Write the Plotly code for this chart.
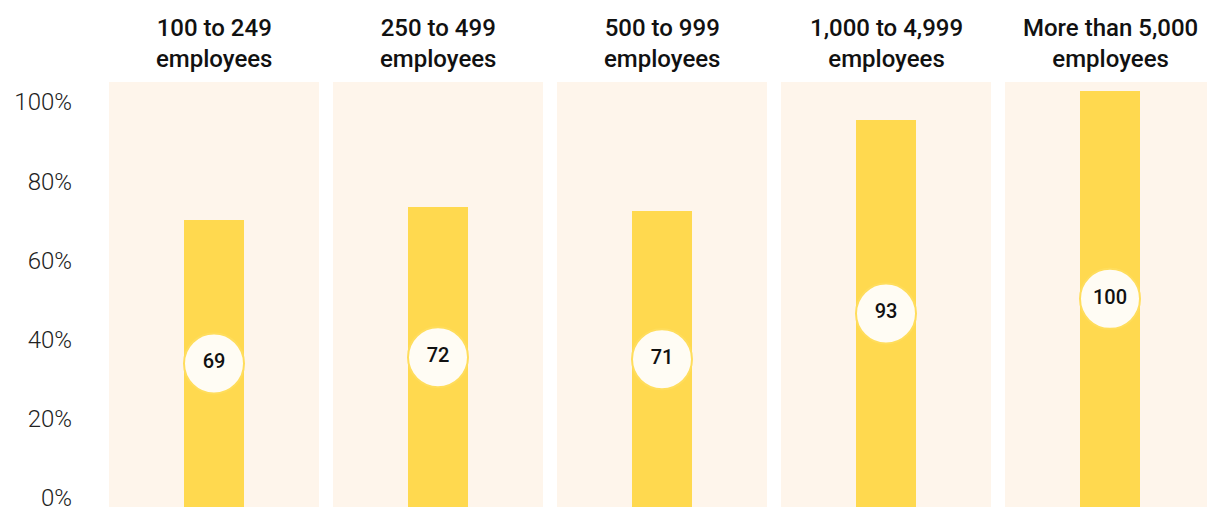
import plotly.graph_objects as go
from plotly.subplots import make_subplots

# company size groups and share (%)
groups = ["100 to 249<br>employees", "250 to 499<br>employees", "500 to 999<br>employees",
          "1,000 to 4,999<br>employees", "More than 5,000<br>employees"]
values = [69, 72, 71, 93, 100]
tick_vals = [0, 20, 40, 60, 80, 100]
tick_text = ["0%", "20%", "40%", "60%", "80%", "100%"]

BAR = "#FFD94F"
PANEL = "#FEF5EB"
CIRCLE = "#FFFCF4"

n = len(groups)
fig = make_subplots(rows=1, cols=n, horizontal_spacing=14 / 1106, shared_yaxes=False)

for i, (g, v) in enumerate(zip(groups, values)):
    col = i + 1
    fig.add_trace(go.Bar(x=[0], y=[v], width=0.29, marker=dict(color=BAR, line_width=0),
                         hoverinfo="skip", showlegend=False), row=1, col=col)
    # value bubble at half bar height
    fig.add_trace(go.Scatter(x=[0], y=[v / 2], mode="markers+text", text=[str(v)],
                             textposition="middle center",
                             textfont=dict(family="Roboto", size=20, color="#111111", weight=500),
                             marker=dict(size=60, color=CIRCLE, line=dict(color="#FFDD5C", width=2)),
                             cliponaxis=False, hoverinfo="skip", showlegend=False), row=1, col=col)
    fig.update_xaxes(range=[-0.5, 0.5], visible=False, fixedrange=True, automargin=False,
                     row=1, col=col)
    fig.update_yaxes(range=[0, 102.1], visible=False, automargin=False, row=1, col=col)
    dom = fig.layout["xaxis" if col == 1 else f"xaxis{col}"].domain
    fig.add_annotation(x=(dom[0] + dom[1]) / 2, y=1, xref="paper", yref="paper",
                       text=g, showarrow=False, xanchor="center", yanchor="bottom", yshift=7,
                       font=dict(family="Roboto", size=24, color="#111111", weight=500))

# separate percentage scale shown on the left
fig.add_trace(go.Scatter(x=[0, 0], y=[0, 100], mode="markers", marker=dict(opacity=0),
                         hoverinfo="skip", showlegend=False, xaxis="x", yaxis="y6"))
fig.update_layout(
    yaxis6=dict(overlaying="y", anchor="x", side="left", range=[-2.4, 105.06],
                tickvals=tick_vals, ticktext=tick_text, showgrid=False, zeroline=False,
                showline=False, ticks="", ticklabelstandoff=36, automargin=False,
                ticklabeloverflow="allow",
                tickfont=dict(family="Roboto", size=24, color="#222222", weight=300)),
)

# page body adds an 8px offset, so the figure is a bit smaller than the window
fig.update_layout(
    width=1207, height=500,
    margin=dict(l=101, r=0, t=74, b=1),
    paper_bgcolor="white",
    plot_bgcolor=PANEL,
    bargap=0,
)

fig.write_html("out.html")
